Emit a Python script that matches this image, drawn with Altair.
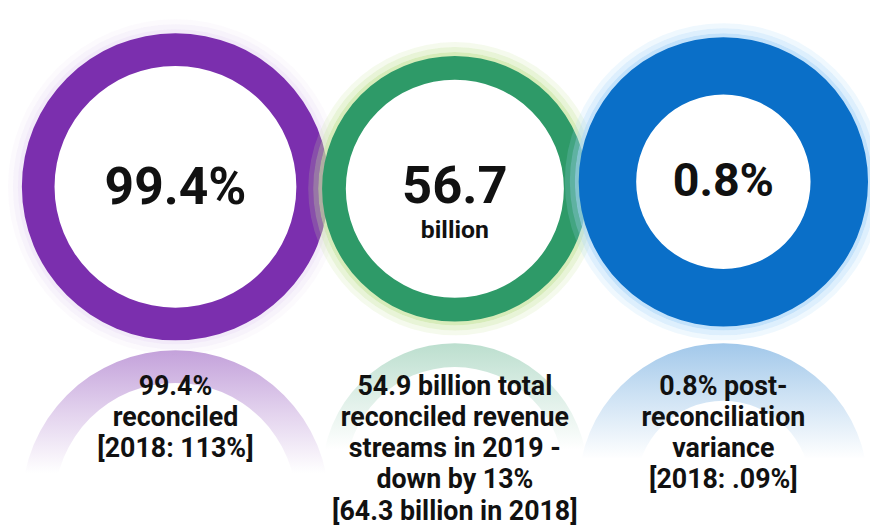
import math
import altair as alt
import pandas as pd

# ---- data ----
rings = ["purple", "green", "blue"]
center_values = ["99.4%", "56.7", "0.8%"]
center_units = ["", "billion", ""]
captions = [
    "99.4%\nreconciled\n[2018: 113%]",
    "54.9 billion total\nreconciled revenue\nstreams in 2019 -\ndown by 13%\n[64.3 billion in 2018]",
    "0.8% post-\nreconciliation\nvariance\n[2018: .09%]",
]

# ---- layout / style ----
colors = ["#7b2fae", "#2e9a68", "#0a6fc8"]
rgb = [(123, 47, 174), (46, 154, 104), (10, 111, 200)]
halo_colors = ["#c9a9e6", "#c6e49c", "#a9d6fa"]
halo_strength = [0.35, 1.0, 1.0]
cx = [177, 459, 730]
cy = [186, 188, 181]
r_out = [155, 134, 146]
r_in = [122, 110, 88]
ref_cy = [506, 478, 490]
ref_alpha = [0.45, 0.32, 0.38]
val_size = [52, 53, 47]
val_base = [203, 202, 195]

W, H = 870, 520
xs = alt.Scale(domain=[8, 8 + W], nice=False, zero=False)
ys = alt.Scale(domain=[8, 8 + H], nice=False, zero=False, reverse=True)

df = pd.DataFrame({
    "ring": rings, "cx": cx, "cy": cy, "ro": r_out, "ri": r_in,
    "rcy": ref_cy, "val": center_values, "unit": center_units,
    "cap": captions, "vb": val_base,
})

TWO_PI = 2 * math.pi
layers = []

# reflections
for i, name in enumerate(rings):
    r, g, b = rgb[i]
    a = ref_alpha[i]
    grad = alt.LinearGradient(
        gradient="linear", x1=0, y1=0, x2=0, y2=1,
        stops=[
            alt.GradientStop(offset=0, color=f"rgba({r},{g},{b},{a})"),
            alt.GradientStop(offset=0.35, color=f"rgba({r},{g},{b},{a*0.55})"),
            alt.GradientStop(offset=0.8, color=f"rgba({r},{g},{b},0)"),
        ],
    )
    layers.append(
        alt.Chart(df).transform_filter(alt.datum.ring == name)
        .mark_arc(theta=1.5 * math.pi, theta2=2.5 * math.pi, color=grad)
        .encode(
            x=alt.X("cx:Q", scale=xs, axis=None),
            y=alt.Y("rcy:Q", scale=ys, axis=None),
            radius=alt.Radius("ro:Q", scale=None),
            radius2=alt.Radius2("ri:Q"),
        )
    )

# halos + rings
for i, name in enumerate(rings):
    s = halo_strength[i]
    for (d0, d1, op) in [(-2, 4, 0.7), (4, 9, 0.4), (9, 14, 0.18)]:
        layers.append(
            alt.Chart(df).transform_filter(alt.datum.ring == name)
            .transform_calculate(h0=f"datum.ro + ({d0})", h1=f"datum.ro + ({d1})")
            .mark_arc(theta=0, theta2=TWO_PI, color=halo_colors[i], opacity=op * s)
            .encode(
                x=alt.X("cx:Q", scale=xs, axis=None),
                y=alt.Y("cy:Q", scale=ys, axis=None),
                radius=alt.Radius("h1:Q", scale=None),
                radius2=alt.Radius2("h0:Q"),
            )
        )
    layers.append(
        alt.Chart(df).transform_filter(alt.datum.ring == name)
        .mark_arc(theta=0, theta2=TWO_PI, color=colors[i])
        .encode(
            x=alt.X("cx:Q", scale=xs, axis=None),
            y=alt.Y("cy:Q", scale=ys, axis=None),
            radius=alt.Radius("ro:Q", scale=None),
            radius2=alt.Radius2("ri:Q"),
        )
    )

# center values
for i, name in enumerate(rings):
    layers.append(
        alt.Chart(df).transform_filter(alt.datum.ring == name)
        .mark_text(font="Roboto", fontWeight="bold", fontSize=val_size[i],
                   color="#111111", align="center", baseline="alphabetic")
        .encode(
            x=alt.X("cx:Q", scale=xs, axis=None),
            y=alt.Y("vb:Q", scale=ys, axis=None),
            text="val:N",
        )
    )

# unit label
layers.append(
    alt.Chart(df).transform_filter(alt.datum.unit != "")
    .transform_calculate(ub="datum.vb + 36")
    .mark_text(font="Roboto", fontWeight="bold", fontSize=25,
               color="#111111", align="center", baseline="alphabetic")
    .encode(
        x=alt.X("cx:Q", scale=xs, axis=None),
        y=alt.Y("ub:Q", scale=ys, axis=None),
        text="unit:N",
    )
)

# captions
layers.append(
    alt.Chart(df).transform_calculate(cb="396")
    .mark_text(font="Roboto", fontWeight="bold", fontSize=27, lineBreak="\n",
               lineHeight=31.5, color="#111111", align="center", baseline="alphabetic")
    .encode(
        x=alt.X("cx:Q", scale=xs, axis=None),
        y=alt.Y("cb:Q", scale=ys, axis=None),
        text="cap:N",
    )
)

chart = (
    alt.layer(*layers)
    .properties(width=W, height=H, padding=0,
                autosize=alt.AutoSizeParams(type="none"),
                background="white")
    .configure_view(stroke=None)
)

chart.save("out.html", embed_options={"renderer": "svg", "actions": False})
